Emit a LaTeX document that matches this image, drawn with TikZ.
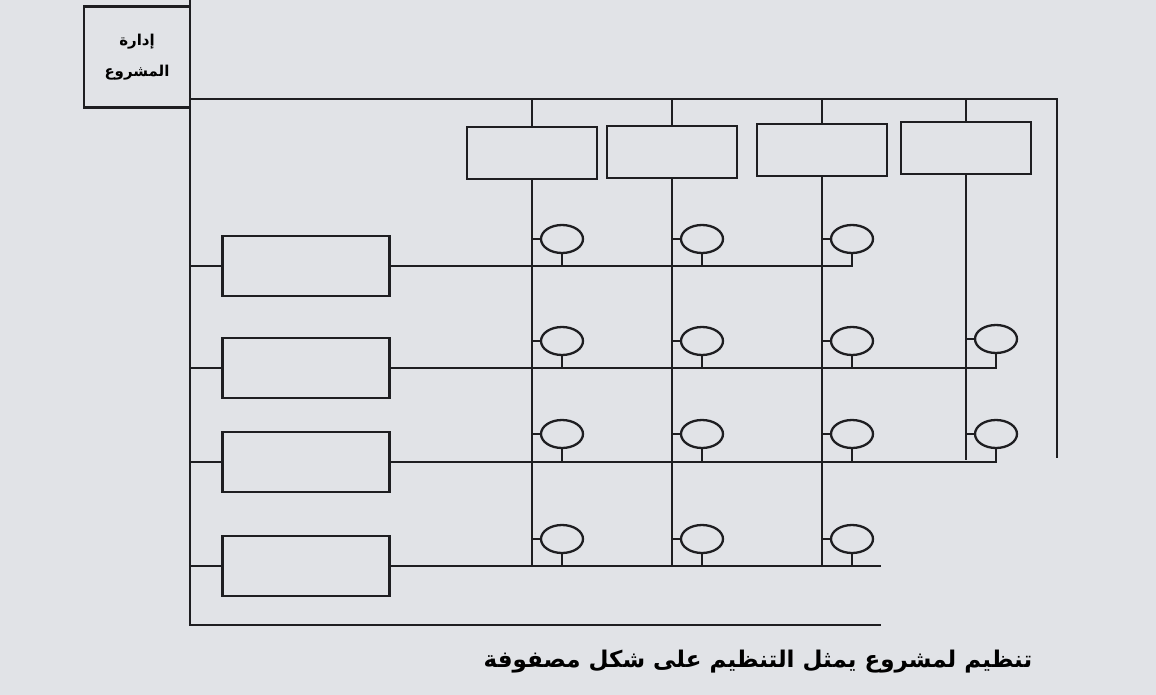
\documentclass[tikz,border=0pt]{standalone}
\usepackage{fontspec}
\newfontfamily\arabicfont[Script=Arabic]{DejaVu Sans}
\TeXXeTstate=1
\usetikzlibrary{shapes.geometric}
\definecolor{paper}{RGB}{225,227,231}
\definecolor{ink}{RGB}{30,30,33}
\tikzset{
  unitbox/.style={draw=ink, rectangle, minimum width=130pt, minimum height=52pt, inner sep=0pt},
  deptbox/.style={draw=ink, rectangle, minimum width=167pt, minimum height=60pt, inner sep=0pt},
  member/.style={draw=ink, ellipse, minimum width=42pt, minimum height=28pt, inner sep=0pt},
}
\begin{document}
\begin{tikzpicture}[x=1pt, y=-1pt, line width=2.3pt, draw=ink]
    % 纸张背景 (固定画布大小)
    \useasboundingbox[fill=paper] (0,0) rectangle (1156,695);

    % 左上角的项目管理框
    \node[draw=ink, minimum width=106pt, minimum height=101pt, inner sep=0pt, align=center,
          font=\arabicfont\bfseries\fontsize{15}{31}\selectfont] (pm) at (137,57)
          {\beginR إدارة\endR\\\beginR المشروع\endR};

    % --- 外框与顶部总线 ---
    \coordinate (ftop) at (190,0);
    \coordinate (fcorner) at (190,625);
    \coordinate (fend) at (881,625);
    \draw (ftop) -- (fcorner) -- (fend);
    \coordinate (busL) at (190,99);
    \coordinate (busR) at (1057,99);
    \coordinate (rightend) at (1057,458);
    \draw (busL) -- (busR) -- (rightend);

    % --- 顶部的四个项目框 (列) ---
    \node[unitbox] (u1) at (532,153) {};
    \node[unitbox] (u2) at (672,152) {};
    \node[unitbox] (u3) at (822,150) {};
    \node[unitbox] (u4) at (966,148) {};
    \draw (u1.north |- busL) -- (u1.north);
    \draw (u2.north |- busL) -- (u2.north);
    \draw (u3.north |- busL) -- (u3.north);
    \draw (u4.north |- busL) -- (u4.north);

    % 列线向下延伸
    \coordinate (c1end) at (532,565);
    \coordinate (c2end) at (672,565);
    \coordinate (c3end) at (822,565);
    \coordinate (c4end) at (966,460);
    \draw (u1.south) -- (c1end);
    \draw (u2.south) -- (c2end);
    \draw (u3.south) -- (c3end);
    \draw (u4.south) -- (c4end);

    % --- 左侧的四个职能框 (行) ---
    \node[deptbox] (d1) at (306,266) {};
    \node[deptbox] (d2) at (306,368) {};
    \node[deptbox] (d3) at (306,462) {};
    \node[deptbox] (d4) at (306,566) {};
    \draw (d1.west -| busL) -- (d1.west);
    \draw (d2.west -| busL) -- (d2.west);
    \draw (d3.west -| busL) -- (d3.west);
    \draw (d4.west -| busL) -- (d4.west);

    % 行线向右延伸
    \coordinate (r1end) at (853,266);
    \coordinate (r2end) at (997,368);
    \coordinate (r3end) at (997,462);
    \coordinate (r4end) at (881,566);
    \draw (d1.east) -- (r1end);
    \draw (d2.east) -- (r2end);
    \draw (d3.east) -- (r3end);
    \draw (d4.east) -- (r4end);

    % --- 交叉点上的成员 (椭圆) ---
    % 第一行
    \node[member] (m11) at (562,239) {};
    \node[member] (m12) at (702,239) {};
    \node[member] (m13) at (852,239) {};
    \draw (u1.south |- m11) -- (m11.west) (m11.south) -- (m11.south |- d1.east);
    \draw (u2.south |- m12) -- (m12.west) (m12.south) -- (m12.south |- d1.east);
    \draw (u3.south |- m13) -- (m13.west) (m13.south) -- (m13.south |- d1.east);

    % 第二行
    \node[member] (m21) at (562,341) {};
    \node[member] (m22) at (702,341) {};
    \node[member] (m23) at (852,341) {};
    \node[member] (m24) at (996,339) {};
    \draw (u1.south |- m21) -- (m21.west) (m21.south) -- (m21.south |- d2.east);
    \draw (u2.south |- m22) -- (m22.west) (m22.south) -- (m22.south |- d2.east);
    \draw (u3.south |- m23) -- (m23.west) (m23.south) -- (m23.south |- d2.east);
    \draw (u4.south |- m24) -- (m24.west) (m24.south) -- (m24.south |- d2.east);

    % 第三行
    \node[member] (m31) at (562,434) {};
    \node[member] (m32) at (702,434) {};
    \node[member] (m33) at (852,434) {};
    \node[member] (m34) at (996,434) {};
    \draw (u1.south |- m31) -- (m31.west) (m31.south) -- (m31.south |- d3.east);
    \draw (u2.south |- m32) -- (m32.west) (m32.south) -- (m32.south |- d3.east);
    \draw (u3.south |- m33) -- (m33.west) (m33.south) -- (m33.south |- d3.east);
    \draw (u4.south |- m34) -- (m34.west) (m34.south) -- (m34.south |- d3.east);

    % 第四行
    \node[member] (m41) at (562,539) {};
    \node[member] (m42) at (702,539) {};
    \node[member] (m43) at (852,539) {};
    \draw (u1.south |- m41) -- (m41.west) (m41.south) -- (m41.south |- d4.east);
    \draw (u2.south |- m42) -- (m42.west) (m42.south) -- (m42.south |- d4.east);
    \draw (u3.south |- m43) -- (m43.west) (m43.south) -- (m43.south |- d4.east);

    % 图题
    \node[font=\arabicfont\bfseries\fontsize{23}{28}\selectfont] (caption) at (758,662)
          {\beginR تنظيم لمشروع يمثل التنظيم على شكل مصفوفة\endR};

\end{tikzpicture}
\end{document}
